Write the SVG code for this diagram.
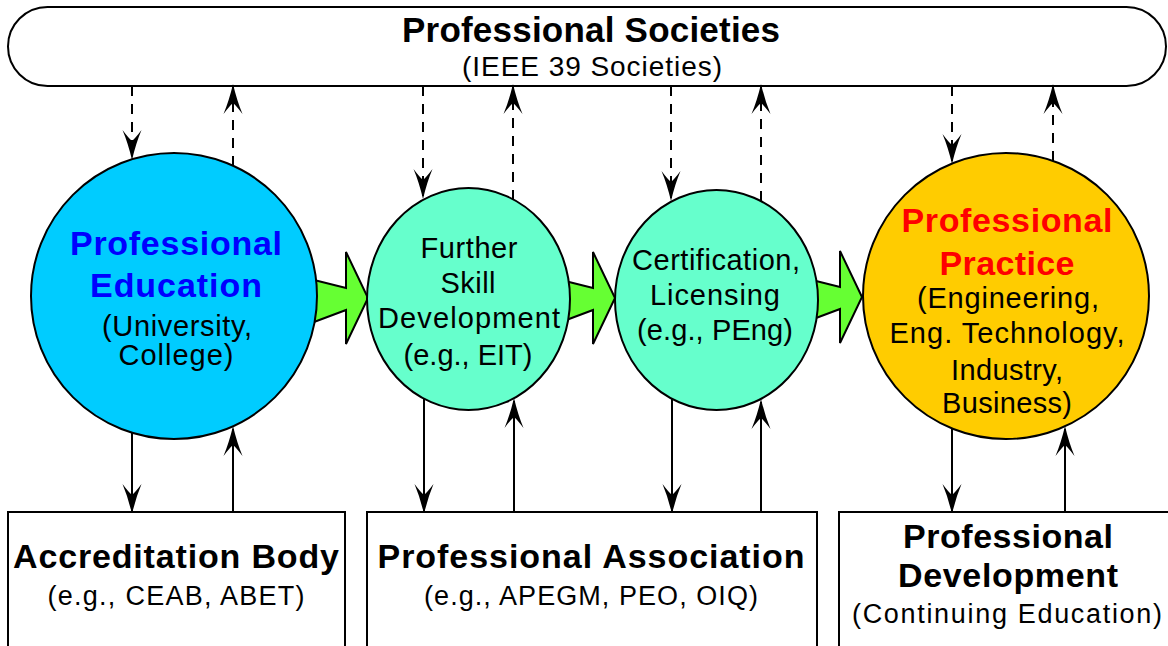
<svg xmlns="http://www.w3.org/2000/svg" width="1168" height="646" viewBox="0 0 1168 646">
<style>
  text { font-family: "Liberation Sans", Arial, sans-serif; text-anchor: middle; fill: #000; }
  .b { font-weight: bold; }
  .tb { font-size: 35px; }
  .ts { font-size: 28px; }
  .cb { font-size: 34px; }
  .cr { font-size: 29px; }
  .xb { font-size: 34px; }
  .xr { font-size: 27px; }
  .blue { fill: #0000FF; }
  .red { fill: #FF0000; }
  .shape { stroke: #000; stroke-width: 2; }
  .box { fill: #FFFFFF; stroke: #000; stroke-width: 2; }
  .dash { stroke: #000; stroke-width: 2; fill: none; stroke-dasharray: 10 8; marker-end: url(#ah); }
  .solid { stroke: #000; stroke-width: 2; fill: none; marker-end: url(#ah); }
  .garrow { fill: #66FF33; stroke: #000; stroke-width: 2; stroke-linejoin: miter; }
</style>
<defs>
  <marker id="ah" markerUnits="userSpaceOnUse" markerWidth="32" markerHeight="22" refX="27" refY="11" orient="auto" overflow="visible">
    <path d="M30,11 Q13,7 0,1.5 Q8,7.5 11,11 Q8,14.5 0,20.5 Q13,15 30,11 Z" fill="#000"/>
  </marker>
  <path id="blockArrow" d="M-70,-22 L-22,-10 L-22,-46 L0,0 L-22,46 L-22,12 L-70,30 Z"/>
</defs>

<rect width="1168" height="646" fill="#FFFFFF"/>

<g id="societies">
  <rect x="8" y="7" width="1158" height="79" rx="39.5" ry="39.5" class="box"/>
  <text x="591" y="42" class="b tb" textLength="378" lengthAdjust="spacing">Professional Societies</text>
  <text x="592" y="76" class="ts" textLength="260" lengthAdjust="spacing">(IEEE 39 Societies)</text>
</g>

<g id="flow-arrows">
  <use href="#blockArrow" class="garrow" transform="translate(368,298)"/>
  <use href="#blockArrow" class="garrow" transform="translate(615,298)"/>
  <use href="#blockArrow" class="garrow" transform="translate(862,297)"/>
</g>

<g id="connectors">
  <line x1="132" y1="86" x2="132" y2="157" class="dash"/>
  <line x1="233" y1="166" x2="233" y2="87" class="dash"/>
  <line x1="423" y1="86" x2="423" y2="196" class="dash"/>
  <line x1="513" y1="200" x2="513" y2="87" class="dash"/>
  <line x1="671" y1="86" x2="671" y2="198" class="dash"/>
  <line x1="761" y1="201" x2="761" y2="87" class="dash"/>
  <line x1="952" y1="86" x2="952" y2="161" class="dash"/>
  <line x1="1053" y1="161" x2="1053" y2="87" class="dash"/>

  <line x1="132" y1="433" x2="132" y2="511" class="solid"/>
  <line x1="233" y1="512" x2="233" y2="429" class="solid"/>
  <line x1="424" y1="399" x2="424" y2="511" class="solid"/>
  <line x1="514" y1="512" x2="514" y2="401" class="solid"/>
  <line x1="672" y1="399" x2="672" y2="511" class="solid"/>
  <line x1="761" y1="512" x2="761" y2="402" class="solid"/>
  <line x1="952" y1="428" x2="952" y2="511" class="solid"/>
  <line x1="1065" y1="512" x2="1065" y2="429" class="solid"/>
</g>

<g id="education">
  <circle cx="174" cy="296" r="143" fill="#00CCFF" class="shape"/>
  <text x="176" y="255" class="b cb blue" textLength="212" lengthAdjust="spacing">Professional</text>
  <text x="176" y="297" class="b cb blue" textLength="172" lengthAdjust="spacing">Education</text>
  <text x="177" y="336" class="cr" textLength="150" lengthAdjust="spacing">(University,</text>
  <text x="176" y="365" class="cr" textLength="115" lengthAdjust="spacing">College)</text>
</g>

<g id="skill">
  <ellipse cx="468.5" cy="299" rx="101.5" ry="111" fill="#66FFCC" class="shape"/>
  <text x="469" y="258" class="cr" textLength="97" lengthAdjust="spacing">Further</text>
  <text x="468" y="293" class="cr" textLength="55" lengthAdjust="spacing">Skill</text>
  <text x="469" y="328" class="cr" textLength="182" lengthAdjust="spacing">Development</text>
  <text x="468" y="365" class="cr" textLength="129" lengthAdjust="spacing">(e.g., EIT)</text>
</g>

<g id="certification">
  <ellipse cx="716.5" cy="300" rx="101.5" ry="110" fill="#66FFCC" class="shape"/>
  <text x="716" y="270" class="cr" textLength="168" lengthAdjust="spacing">Certification,</text>
  <text x="715" y="305" class="cr" textLength="130" lengthAdjust="spacing">Licensing</text>
  <text x="715" y="340" class="cr" textLength="156" lengthAdjust="spacing">(e.g., PEng)</text>
</g>

<g id="practice">
  <circle cx="1006" cy="296" r="143" fill="#FFCC00" class="shape"/>
  <text x="1007" y="232" class="b cb red" textLength="211" lengthAdjust="spacing">Professional</text>
  <text x="1007" y="275" class="b cb red" textLength="135" lengthAdjust="spacing">Practice</text>
  <text x="1008" y="308" class="cr" textLength="182" lengthAdjust="spacing">(Engineering,</text>
  <text x="1007" y="343" class="cr" textLength="235" lengthAdjust="spacing">Eng. Technology,</text>
  <text x="1007" y="380" class="cr" textLength="112" lengthAdjust="spacing">Industry,</text>
  <text x="1007" y="413" class="cr" textLength="130" lengthAdjust="spacing">Business)</text>
</g>

<g id="accreditation">
  <rect x="8" y="512" width="337" height="150" class="box"/>
  <text x="176" y="568" class="b xb" textLength="326" lengthAdjust="spacing">Accreditation Body</text>
  <text x="176" y="605" class="xr" textLength="257" lengthAdjust="spacing">(e.g., CEAB, ABET)</text>
</g>

<g id="association">
  <rect x="367" y="512" width="450" height="150" class="box"/>
  <text x="591" y="568" class="b xb" textLength="427" lengthAdjust="spacing">Professional Association</text>
  <text x="591" y="605" class="xr" textLength="334" lengthAdjust="spacing">(e.g., APEGM, PEO, OIQ)</text>
</g>

<g id="development">
  <rect x="839" y="512" width="340" height="150" class="box"/>
  <text x="1008" y="548" class="b xb" textLength="210" lengthAdjust="spacing">Professional</text>
  <text x="1008" y="587" class="b xb" textLength="220" lengthAdjust="spacing">Development</text>
  <text x="1007" y="623" class="xr" textLength="310" lengthAdjust="spacing">(Continuing Education)</text>
</g>
</svg>
